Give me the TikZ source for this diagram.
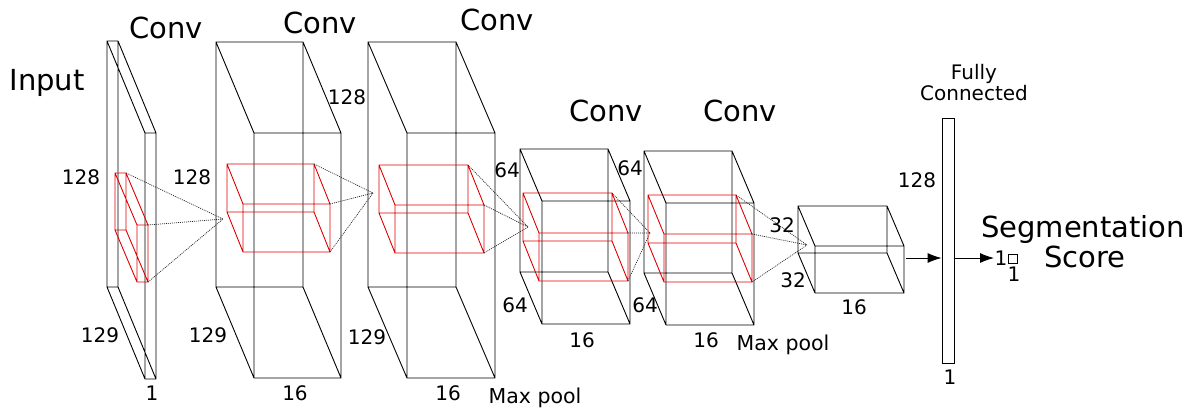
\documentclass[tikz,border=0pt]{standalone}
\usepackage{fontspec}
\setmainfont{DejaVu Sans}
\usetikzlibrary{arrows.meta}
\tikzset{
  wire/.style={draw=black, line width=0.9pt},
  redwire/.style={draw=red!88!black, line width=0.9pt},
  dots/.style={draw=black!85, line width=0.7pt, dash pattern=on 1pt off 1pt},
  big/.style={font=\fontsize{29}{32}\selectfont, inner sep=0pt},
  dim/.style={font=\fontsize{20}{22}\selectfont, inner sep=0pt},
  small/.style={font=\fontsize{20.5}{22}\selectfont, inner sep=0pt},
  arr/.style={draw=black, line width=0.9pt, -{Latex[length=14pt,width=10pt]}}
}
% cuboid: style, x1,y1,x2,y2 (front rect), dx,dy (depth offset)
\newcommand\cuboid[7]{%
  \draw[#1] (#2,#3) rectangle (#4,#5)
    (#2+#6,#3+#7) rectangle (#4+#6,#5+#7)
    (#2,#3) -- ++(#6,#7) (#4,#3) -- ++(#6,#7)
    (#2,#5) -- ++(#6,#7) (#4,#5) -- ++(#6,#7);}
% receptive field: red cuboid + dotted lines to apex
\newcommand\field[8]{%
  \cuboid{redwire}{#1}{#2}{#3}{#4}{#5}{#6}
  \draw[dots] (#3,#2) -- (#7,#8) (#3+#5,#2+#6) -- (#7,#8) (#3+#5,#4+#6) -- (#7,#8);}
\begin{document}
\begin{tikzpicture}[x=1pt,y=-1pt]
\useasboundingbox (0,0) rectangle (1189,408);
% blocks
\cuboid{wire}{107}{41}{118}{287}{38}{92}
\cuboid{wire}{216}{42}{303}{287}{38}{91}
\cuboid{wire}{368}{42}{456}{287}{39}{91}
\cuboid{wire}{520}{149}{608}{272}{22}{52}
\cuboid{wire}{644}{151}{732}{273}{22}{52}
\cuboid{wire}{798}{206}{887}{253}{17}{40}
% receptive fields
\field{115}{173}{126}{230}{22}{52}{223}{219}
\field{227}{164}{314}{212}{16}{40}{373}{193}
\field{379}{165}{468}{213}{16}{40}{528}{227}
\field{523}{193}{612}{241}{16}{40}{650}{233}
\field{648}{195}{736}{243}{16}{39}{807}{245}
% fully connected bar
\node[draw, line width=0.9pt, minimum width=12pt, minimum height=245pt, inner sep=0pt] (fc) at (948,240.5) {};
\coordinate (b6) at (906,258);
\coordinate (out) at (994,258);
\draw[arr] (b6) -- (fc.west |- b6);
\draw[arr] (fc.east |- b6) -- (out);
\node[draw, line width=0.9pt, minimum size=9pt, inner sep=0pt] (sq) at (1013,258.5) {};
\node[dim, anchor=east] at (1007.5,258) {1};
\node[dim] at (1014,274) {1};
% labels
\node[big] at (47,83) {Input};
\node[big] at (166,28) {Conv};
\node[big] at (320,23) {Conv};
\node[big] at (497,20) {Conv};
\node[big] at (606,111) {Conv};
\node[big] at (740,111) {Conv};
\node[big] at (1083,229) {Segmentation};
\node[big] at (1085,257) {Score};
\node[align=center, inner sep=0pt, font=\fontsize{20}{21}\selectfont] at (974,83) {Fully\\Connected};
\node[small] at (535,398) {Max pool};
\node[small] at (783,345) {Max pool};
\node[dim] at (81,177) {128};
\node[dim] at (100,335) {129};
\node[dim] at (152,393) {1};
\node[dim] at (192,177) {128};
\node[dim] at (208,335) {129};
\node[dim] at (295,393) {16};
\node[dim] at (347,97) {128};
\node[dim] at (367,337) {129};
\node[dim] at (448,393) {16};
\node[dim] at (507,170) {64};
\node[dim] at (515,305) {64};
\node[dim] at (582,340) {16};
\node[dim] at (630,168) {64};
\node[dim] at (645,305) {64};
\node[dim] at (706,340) {16};
\node[dim] at (782,225) {32};
\node[dim] at (793,280) {32};
\node[dim] at (854,307) {16};
\node[dim] at (917,180) {128};
\node[dim] at (950,377) {1};
\end{tikzpicture}
\end{document}
